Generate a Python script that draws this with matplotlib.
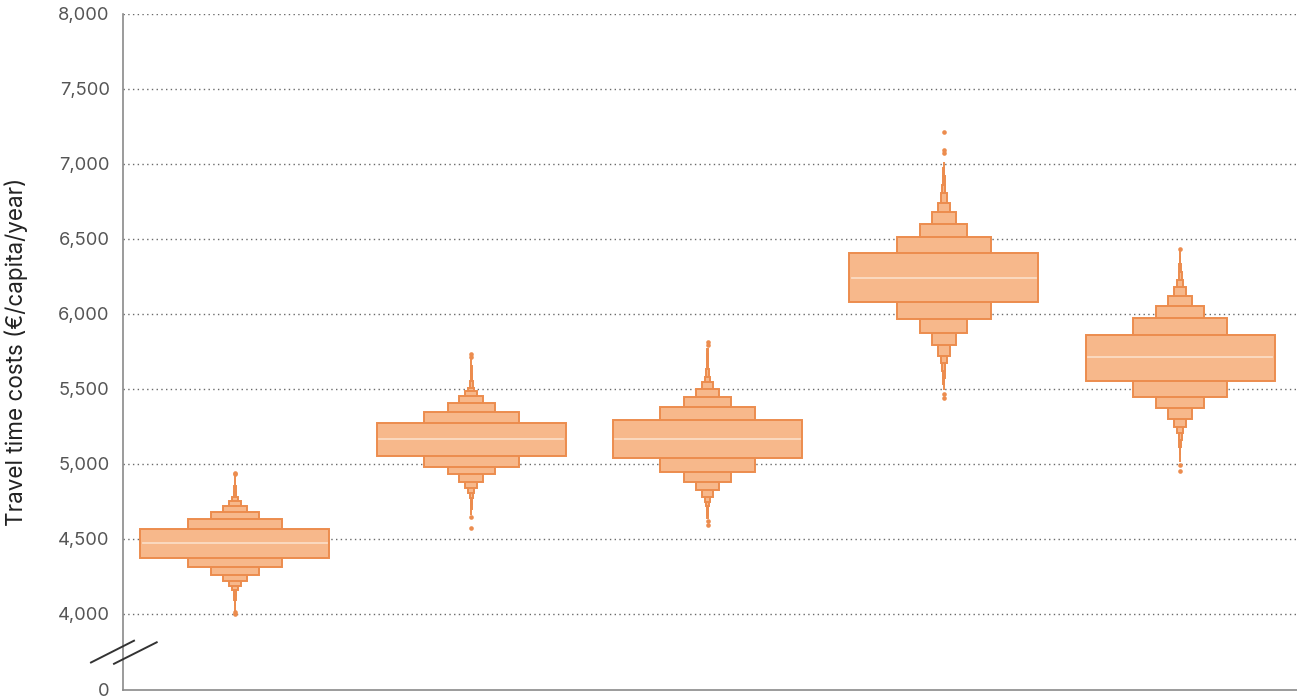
import numpy as np
import matplotlib
matplotlib.use("Agg")
import matplotlib.pyplot as plt
from matplotlib.scale import FuncScale
from matplotlib.transforms import ScaledTranslation
from matplotlib.ticker import FixedLocator, FuncFormatter

# Letter-value summaries per scenario: median, then upper/lower bounds of
# successive letter-value boxes (innermost first), plus individual outliers.
scenarios = ["A", "B", "C", "D", "E"]

medians = [4471, 5165, 5167, 6242, 5711]

upper_levels = [
    [4565, 4631, 4682, 4720, 4755, 4778, 4810, 4850, 4890, 4925],
    [5275, 5349, 5409, 5453, 5487, 5509, 5550, 5600, 5650, 5700],
    [5293, 5382, 5449, 5500, 5549, 5582, 5630, 5680, 5730, 5765],
    [6405, 6511, 6602, 6678, 6742, 6805, 6860, 6920, 6970, 7010],
    [5860, 5970, 6052, 6120, 6177, 6227, 6280, 6335, 6385, 6420],
]
lower_levels = [
    [4371, 4311, 4260, 4222, 4187, 4160, 4125, 4090, 4055, 4020],
    [5055, 4982, 4930, 4882, 4840, 4804, 4770, 4735, 4700, 4660],
    [5042, 4949, 4882, 4827, 4778, 4749, 4720, 4690, 4660, 4640],
    [6082, 5965, 5871, 5792, 5723, 5671, 5620, 5575, 5530, 5490],
    [5552, 5449, 5371, 5302, 5247, 5204, 5160, 5110, 5060, 5010],
]
outliers = [
    [4943, 4930, 4012, 4002],
    [5733, 5716, 4645, 4571],
    [5811, 5790, 4622, 4593],
    [7211, 7093, 7070, 5465, 5440],
    [6435, 4990, 4955],
]

y_ticks = [0, 4000, 4500, 5000, 5500, 6000, 6500, 7000, 7500, 8000]
y_label = "Travel time costs (€/capita/year)"

FILL = "#F7B88B"
EDGE = "#EC8C4E"
MEDIAN = "#FBDCC4"

plt.rcParams["font.family"] = ["Inter", "DejaVu Sans"]

fig = plt.figure(figsize=(12.97, 7.0), dpi=100)
ax = fig.add_axes([123 / 1297, 10 / 700, 1 - 123 / 1297, 676 / 700])

# Broken axis: the 0-4000 range is squeezed into a short stretch at the bottom.
BREAK = 4000.0
K = 0.12667


def fwd(v):
    v = np.asarray(v, dtype=float)
    return np.where(v >= BREAK, v, BREAK - (BREAK - v) * K)


def inv(u):
    u = np.asarray(u, dtype=float)
    return np.where(u >= BREAK, u, BREAK - (BREAK - u) / K)


ax.set_yscale(FuncScale(ax, (fwd, inv)))
ax.set_ylim(0, 8000)
ax.set_xlim(-0.474, 4.495)

# Dotted horizontal grid above the break
for t in y_ticks:
    if t >= BREAK:
        ax.axhline(t, color="#6a6a6a", lw=1.0, dashes=(1, 2.4), zorder=0)

base_width = 0.8
for i, name in enumerate(scenarios):
    n = len(upper_levels[i])
    # widest (innermost) box is drawn last so it sits on top
    for k in reversed(range(n)):
        lo = lower_levels[i][k]
        hi = upper_levels[i][k]
        w = base_width * 0.5 ** k
        ax.bar(i, hi - lo, bottom=lo, width=w, color=FILL, edgecolor=EDGE,
               linewidth=1.4, zorder=2 + (n - k) * 0.01)
    ax.plot([i - base_width / 2 + 0.01, i + base_width / 2 - 0.01],
            [medians[i], medians[i]], color=MEDIAN, lw=1.3, zorder=3)
    ax.scatter(np.full(len(outliers[i]), i), outliers[i], s=11, color=EDGE,
               linewidths=0, zorder=3)

ax.yaxis.set_major_locator(FixedLocator(y_ticks))
ax.yaxis.set_major_formatter(FuncFormatter(lambda v, p: f"{v:,.0f}"))
ax.tick_params(axis="y", length=0, pad=9.5, labelsize=13.2, labelcolor="#555555")
ax.set_xticks([])

for side in ("top", "right"):
    ax.spines[side].set_visible(False)
for side in ("left", "bottom"):
    ax.spines[side].set_color("#8a8a8a")
    ax.spines[side].set_linewidth(1.2)

ax.set_ylabel(y_label, fontsize=16.2, color="#222222")
ax.yaxis.set_label_coords(-0.081, 0.5)

# Break marks: two parallel slashes across the left spine at 2,000
anchor = ScaledTranslation(0, 2000, ax.get_yaxis_transform())
tr = fig.dpi_scale_trans + anchor
for dx0, dy0, dx1, dy1 in [(-32, -10.5, 11, 11.3), (-9, -11.8, 33.7, 9.7)]:
    ax.plot(np.array([dx0, dx1]) / 100, np.array([dy0, dy1]) / 100,
            transform=tr, color="#333333", lw=1.4, clip_on=False, zorder=5)

fig.savefig("out.png", dpi=100)
